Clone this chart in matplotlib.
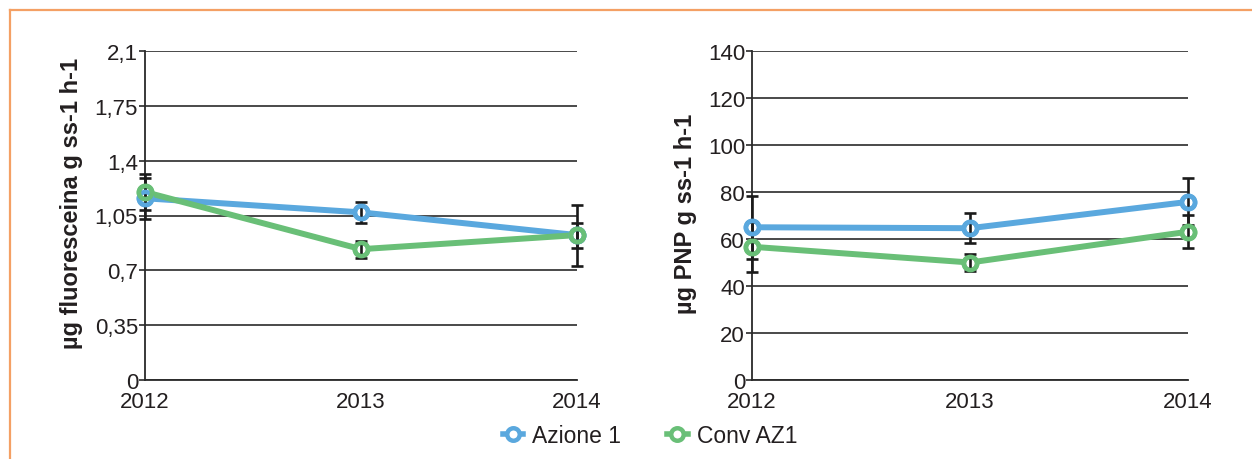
import matplotlib
matplotlib.use("Agg")
import matplotlib.pyplot as plt
from matplotlib.lines import Line2D

plt.rcParams['font.family'] = ['Liberation Sans', 'DejaVu Sans']

years = ['2012', '2013', '2014']

fda_azione = [1.16, 1.07, 0.925]
fda_azione_err = [0.13, 0.065, 0.08]
fda_conv = [1.20, 0.835, 0.925]
fda_conv_err = [0.115, 0.055, 0.195]
fda_ticks = [0, 0.35, 0.7, 1.05, 1.4, 1.75, 2.1]
fda_ticklabels = ['0', '0,35', '0,7', '1,05', '1,4', '1,75', '2,1']

pnp_azione = [65.0, 64.6, 75.8]
pnp_azione_err = [13.4, 6.5, 10.0]
pnp_conv = [56.7, 50.0, 63.1]
pnp_conv_err = [10.7, 3.7, 7.0]
pnp_ticks = [0, 20, 40, 60, 80, 100, 120, 140]
pnp_ticklabels = ['0', '20', '40', '60', '80', '100', '120', '140']

series_names = ['Azione 1', 'Conv AZ1']
BLUE = '#5AA8DE'
GREEN = '#69BF77'
TXT = '#231F20'
ORANGE = '#F4A064'

W, H = 1252, 460
fig = plt.figure(figsize=(W / 100, H / 100), dpi=100)

def ax_rect(x0, x1, ytop, ybot):
    return [x0 / W, (H - ybot) / H, (x1 - x0) / W, (ybot - ytop) / H]

ax1 = fig.add_axes(ax_rect(145, 577, 52, 381))
ax2 = fig.add_axes(ax_rect(752, 1188, 52, 381))

def draw(ax, a, ae, c, ce, ticks, ticklabels, ylabel, labelx, labely):
    x = list(range(len(years)))
    for vals, errs, col in [(a, ae, BLUE), (c, ce, GREEN)]:
        ax.plot(x, vals, color=col, lw=4.3, marker='o', ms=9.5, mfc='white',
                mec=col, mew=3.3, zorder=3, clip_on=False, solid_capstyle='round')
        ax.errorbar(x, vals, yerr=errs, fmt='none', ecolor='#1a1a1a', elinewidth=1.9,
                    capsize=4.5, capthick=1.9, zorder=4, clip_on=False)
        ax.plot(x, vals, linestyle='none', marker='o', ms=9.5, mfc='none',
                mec=col, mew=3.3, zorder=5, clip_on=False)
    ax.set_xlim(0, len(years) - 1)
    ax.set_ylim(ticks[0], ticks[-1])
    ax.set_yticks(ticks)
    ax.set_yticklabels(ticklabels)
    ax.set_xticks(x)
    ax.set_xticklabels(years)
    ax.grid(axis='y', color='#2a2a2a', lw=1.2, zorder=1)
    ax.set_axisbelow(True)
    for s in ['top', 'right']:
        ax.spines[s].set_visible(False)
    for s in ['left', 'bottom']:
        ax.spines[s].set_color('#2a2a2a')
        ax.spines[s].set_linewidth(1.3)
    ax.tick_params(axis='y', length=4, width=1.2, color='#2a2a2a', pad=1,
                   labelsize=16, labelcolor=TXT)
    ax.tick_params(axis='x', length=0, pad=8, labelsize=16, labelcolor=TXT)
    ax.set_ylabel(ylabel, fontsize=17, fontweight='bold', color=TXT)
    ax.yaxis.set_label_coords(labelx, labely)

draw(ax1, fda_azione, fda_azione_err, fda_conv, fda_conv_err, fda_ticks,
     fda_ticklabels, 'µg fluoresceina g ss-1 h-1', -0.143, 0.541)
draw(ax2, pnp_azione, pnp_azione_err, pnp_conv, pnp_conv_err, pnp_ticks,
     pnp_ticklabels, 'µg PNP g ss-1 h-1', -0.126, 0.508)

# orange frame (top and left)
fig.add_artist(Line2D([10 / W, 1.0], [1 - 11 / H, 1 - 11 / H], color=ORANGE, lw=1.6,
                      transform=fig.transFigure))
fig.add_artist(Line2D([10 / W, 10 / W], [0, 1 - 11 / H], color=ORANGE, lw=1.6,
                      transform=fig.transFigure))

handles = [Line2D([], [], color=c, lw=4, marker='o', ms=9, mfc='white', mec=c, mew=3.2)
           for c in (BLUE, GREEN)]
leg = fig.legend(handles, series_names, loc='center', bbox_to_anchor=(650 / W, 1 - 437 / H),
                 ncol=2, frameon=False, fontsize=16.5, handlelength=0.9, handletextpad=0.4,
                 columnspacing=2.0)
for t in leg.get_texts():
    t.set_color(TXT)

fig.savefig('out.png', dpi=100, facecolor='white')
